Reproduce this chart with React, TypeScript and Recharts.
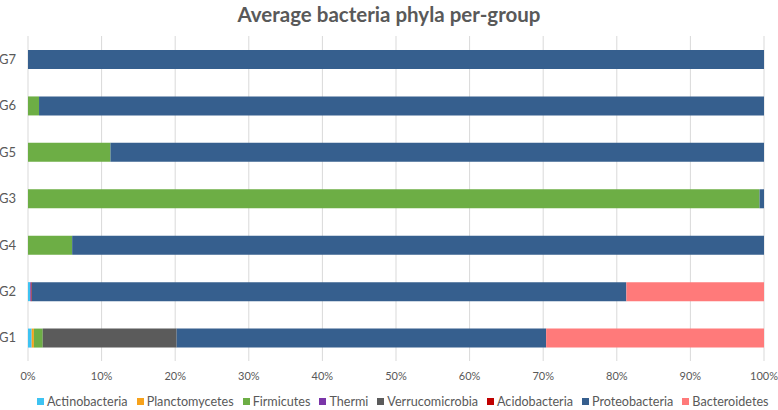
import React from "react";
import { BarChart, Bar, XAxis, YAxis, CartesianGrid } from "recharts";

const groups = ["G7", "G6", "G5", "G3", "G4", "G2", "G1"];
const phyla = [
  "Actinobacteria",
  "Planctomycetes",
  "Firmicutes",
  "Thermi",
  "Verrucomicrobia",
  "Acidobacteria",
  "Proteobacteria",
  "Bacteroidetes",
];
const actinobacteria = [0, 0, 0, 0, 0, 0.3, 0.5];
const planctomycetes = [0, 0, 0, 0, 0, 0, 0.3];
const firmicutes = [0, 1.5, 11.2, 99.4, 6.0, 0, 1.2];
const thermi = [0, 0, 0, 0, 0, 0.1, 0];
const verrucomicrobia = [0, 0, 0, 0, 0, 0, 18.2];
const acidobacteria = [0, 0, 0, 0, 0, 0.1, 0];
const proteobacteria = [100, 98.5, 88.8, 0.6, 94.0, 80.8, 50.2];
const bacteroidetes = [0, 0, 0, 0, 0, 18.7, 29.6];
const xTicks = [0, 10, 20, 30, 40, 50, 60, 70, 80, 90, 100];

const colors = [
  "#3EC3F2",
  "#F7A21B",
  "#6DAE45",
  "#7A35A8",
  "#5B5B5B",
  "#C00000",
  "#365F8E",
  "#FF7A7A",
];

const seriesValues = [
  actinobacteria,
  planctomycetes,
  firmicutes,
  thermi,
  verrucomicrobia,
  acidobacteria,
  proteobacteria,
  bacteroidetes,
];

const data = groups.map((g, i) => {
  const row: Record<string, string | number> = { group: g };
  phyla.forEach((p, j) => {
    row[p] = seriesValues[j][i];
  });
  return row;
});

const FONT = "Lato, 'Open Sans', sans-serif";
const TEXT = "#595959";

export default function App() {
  return (
    <div style={{ position: "absolute", left: 0, top: 0, width: 778, height: 410, background: "#fff", fontFamily: FONT }}>
      <div
        style={{
          position: "absolute",
          left: 0,
          top: 2,
          width: 778,
          textAlign: "center",
          fontSize: 20.5,
          fontWeight: 700,
          color: TEXT,
          fontFamily: FONT,
        }}
      >
        Average bacteria phyla per-group
      </div>
      <BarChart
        width={778}
        height={410}
        data={data}
        layout="vertical"
        margin={{ top: 36, right: 14, bottom: 19, left: 7 }}
        barSize={19}
      >
        <CartesianGrid horizontal={false} stroke="#D9D9D9" />
        <XAxis
          type="number"
          domain={[0, 100]}
          ticks={xTicks}
          tickFormatter={(v: number) => `${v}%`}
          axisLine={false}
          tickLine={false}
          tickSize={0}
          tickMargin={11}
          tick={{ fill: TEXT, fontSize: 11, fontFamily: FONT }}
          height={30}
          interval={0}
        />
        <YAxis
          type="category"
          dataKey="group"
          axisLine={false}
          tickLine={false}
          tickSize={0}
          tickMargin={12}
          width={21}
          tick={{ fill: TEXT, fontSize: 13, fontFamily: FONT }}
        />
        {phyla.map((p, j) => (
          <Bar key={p} dataKey={p} stackId="a" fill={colors[j]} isAnimationActive={false} />
        ))}
      </BarChart>
      <div
        style={{
          position: "absolute",
          left: 37,
          top: 394,
          display: "flex",
          alignItems: "center",
          whiteSpace: "nowrap",
          fontSize: 12.6,
          color: TEXT,
          fontFamily: FONT,
        }}
      >
        {phyla.map((p, j) => (
          <span key={p} style={{ display: "inline-flex", alignItems: "center", marginRight: j < phyla.length - 1 ? 9 : 0 }}>
            <span style={{ display: "inline-block", width: 7, height: 7, background: colors[j], marginRight: 3 }} />
            {p}
          </span>
        ))}
      </div>
    </div>
  );
}
